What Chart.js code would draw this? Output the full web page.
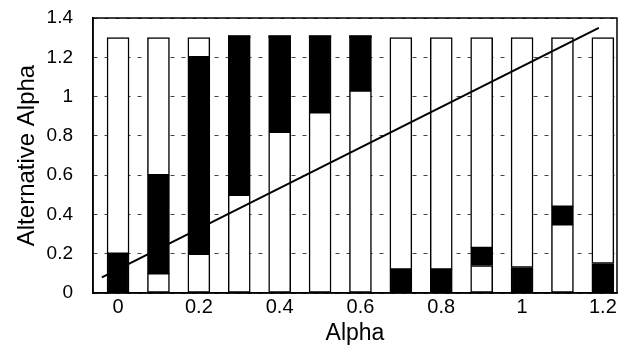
<!DOCTYPE html>
<html>
<head>
<meta charset="utf-8">
<script src="https://cdn.jsdelivr.net/npm/chart.js@4.4.1/dist/chart.umd.min.js"></script>
<style>
  html, body { margin: 0; padding: 0; background: #fff; }
</style>
</head>
<body>
<canvas id="grafica" width="629" height="352"></canvas>
<script>
// =========================
// DATOS
// =========================
const alphas    = [0, 0.1, 0.2, 0.3, 0.4, 0.5, 0.6, 0.7, 0.8, 0.9, 1.0, 1.1, 1.2];
const blackLow  = [0, 0.1, 0.2, 0.5, 0.82, 0.92, 1.03, 0, 0, 0.14, 0, 0.35, 0];
const blackHigh = [0.2, 0.6, 1.2, 1.31, 1.31, 1.31, 1.31, 0.12, 0.12, 0.23, 0.13, 0.44, 0.15];
const barTop    = 1.3;
const lineX     = [-0.04, 1.19];
const lineY     = [0.08, 1.35];
const xTicks    = [0, 0.2, 0.4, 0.6, 0.8, 1, 1.2];
const yTicks    = [0, 0.2, 0.4, 0.6, 0.8, 1, 1.2, 1.4];

const family = "'Liberation Sans', Arial, sans-serif";
const fmt = (v) => String(+Number(v).toFixed(1));

const segment = (lo, hi) => alphas.map((a, i) => ({ x: a, y: [lo[i], hi[i]] }));
const zeros = alphas.map(() => 0);
const tops = alphas.map(() => barTop);

const barStyle = {
  type: "bar",
  borderColor: "#000",
  borderWidth: 1.5,
  borderSkipped: false,
  barThickness: 22,
  grouped: false,
  order: 1
};

// marco alrededor del área del gráfico
const frame = {
  id: "frame",
  afterDatasetsDraw(chart) {
    const { ctx, chartArea: a } = chart;
    ctx.save();
    ctx.setLineDash([]);
    ctx.strokeStyle = "#000";
    ctx.lineWidth = 1.5;
    ctx.strokeRect(a.left, a.top, a.right - a.left, a.bottom - a.top);
    ctx.restore();
  }
};

new Chart(document.getElementById("grafica"), {
  data: {
    datasets: [
      {
        type: "line",
        data: lineX.map((x, i) => ({ x, y: lineY[i] })),
        borderColor: "#000",
        borderWidth: 2,
        pointRadius: 0,
        fill: false,
        order: 0
      },
      { ...barStyle, data: segment(zeros, blackLow), backgroundColor: "#fff" },
      { ...barStyle, data: segment(blackLow, blackHigh), backgroundColor: "#000" },
      { ...barStyle, data: segment(blackHigh, tops), backgroundColor: "#fff" }
    ]
  },
  options: {
    responsive: false,
    animation: false,
    devicePixelRatio: 1,
    layout: { padding: { top: 18, right: 12, left: 0, bottom: 0 } },
    plugins: { legend: { display: false }, tooltip: { enabled: false } },
    scales: {
      x: {
        type: "linear",
        offset: false,
        min: -0.062,
        max: 1.235,
        afterBuildTicks: (s) => { s.ticks = xTicks.map((v) => ({ value: v })); },
        afterFit: (s) => { s.height = 59; },
        grid: { display: false, drawTicks: false },
        border: { color: "#000", width: 1.5 },
        ticks: { color: "#000", font: { family, size: 20 }, padding: 2, maxRotation: 0, autoSkip: false, callback: fmt },
        title: { display: true, text: "Alpha", color: "#000", font: { family, size: 23 }, padding: { top: 0, bottom: 5 } }
      },
      y: {
        type: "linear",
        min: 0,
        max: 1.4,
        afterBuildTicks: (s) => { s.ticks = yTicks.map((v) => ({ value: v })); },
        afterFit: (s) => { s.width = 93; },
        grid: { color: "#444", lineWidth: 1, drawTicks: true, tickLength: 20, tickColor: "rgba(0,0,0,0)" },
        border: { color: "#000", width: 1.5, dash: [4, 7] },
        ticks: { color: "#000", font: { family, size: 19 }, padding: 0, callback: fmt },
        title: { display: true, text: "Alternative Alpha", color: "#000", font: { family, size: 24 }, padding: { top: 13, bottom: 0 } }
      }
    }
  },
  plugins: [frame]
});
</script>
</body>
</html>
